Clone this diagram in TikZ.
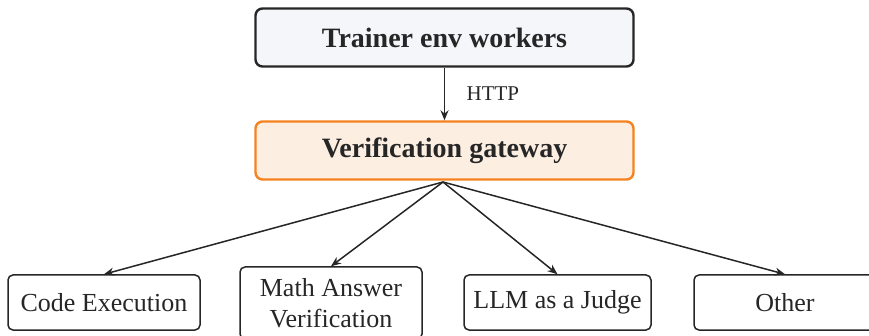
\documentclass[tikz,border=0pt]{standalone}
\usepackage{fontspec}
\setmainfont{Liberation Serif}
\usetikzlibrary{arrows.meta}
\definecolor{topfill}{HTML}{F5F6FA}
\definecolor{gwfill}{HTML}{FDEEE2}
\definecolor{gwline}{HTML}{F5821F}
\definecolor{ink}{HTML}{262626}
\tikzset{
  bigbox/.style={draw=ink, line width=2.4pt, rounded corners=7pt, minimum width=378pt, minimum height=58pt, font=\fontsize{28}{32}\selectfont\bfseries, text=ink},
  leafbox/.style={draw=ink, line width=1.5pt, rounded corners=5pt, minimum height=55pt, font=\fontsize{26}{31}\selectfont, text=ink, align=center, inner sep=0pt},
  conn/.style={draw=ink, line width=1.5pt, -{Stealth[length=10pt,width=8pt]}}
}
\begin{document}
\begin{tikzpicture}[x=1pt,y=-1pt]
\useasboundingbox (0,0) rectangle (869,336);
\node[bigbox, fill=topfill] (trainer) at (444.5,37.5) {Trainer env workers};
\node[bigbox, fill=gwfill, draw=gwline] (gw) at (444.5,150.5) {Verification gateway};
\node[leafbox, minimum width=192pt] (code) at (104,302.5) {Code Execution};
\node[leafbox, minimum width=182pt, minimum height=72pt] (math) at (331,303) {Math Answer\\Verification};
\node[leafbox, minimum width=187pt] (llm) at (557.5,302.5) {LLM as a Judge};
\node[leafbox, minimum width=182pt] (other) at (785,302.5) {Other};
\draw[conn] (trainer.south) -- node[right=18pt, font=\fontsize{21}{24}\selectfont, text=ink] {HTTP} (gw.north);
\coordinate (hub) at (443,182);
\draw[conn] (hub) -- (code.north);
\draw[conn] (hub) -- (math.north);
\draw[conn] (hub) -- (llm.north);
\draw[conn] (hub) -- (other.north);
\end{tikzpicture}
\end{document}
